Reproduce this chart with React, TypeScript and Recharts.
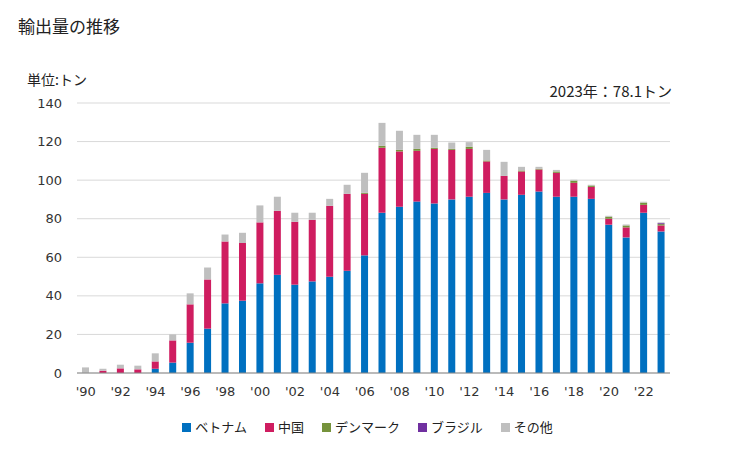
import React from "react";
import { BarChart, Bar, XAxis, YAxis, CartesianGrid } from "recharts";

const years = ["'90","'91","'92","'93","'94","'95","'96","'97","'98","'99","'00","'01","'02","'03","'04","'05","'06","'07","'08","'09","'10","'11","'12","'13","'14","'15","'16","'17","'18","'19","'20","'21","'22","'23"];
const vietnam = [0,0,0,0,2.2,5.4,15.7,23.0,36.1,37.5,46.5,50.9,45.8,47.5,49.9,53.0,61.0,83.1,86.2,88.9,87.9,90.0,91.4,93.4,90.0,92.4,94.1,91.4,91.4,90.3,76.9,70.3,83.1,73.4];
const china = [0,1.2,2.4,1.9,3.8,11.5,19.9,25.5,32.1,29.9,31.6,33.2,32.6,31.9,36.8,39.9,31.9,33.7,28.7,26.3,28.3,25.7,24.8,16.3,12.2,12.1,11.4,12.4,7.2,6.2,3.1,5.2,4.1,3.1];
const denmark = [0,0,0,0,0,0,0,0,0,0,0,0,0,0,0,0,0.5,1.0,0.8,1.0,0.6,0.5,1.1,0.5,0,0.5,0.4,0.7,1.1,0.7,1.0,1.0,1.1,0.7];
const brazil = [0,0,0,0,0,0,0,0,0,0,0,0,0,0,0,0,0,0,0,0,0,0,0,0,0,0,0,0,0,0,0,0,0,0.5];
const others = [2.9,1.0,1.9,1.9,4.2,3.1,5.7,6.2,3.6,5.3,8.8,7.3,4.7,3.7,3.6,4.7,10.4,11.9,9.9,7.3,6.7,3.3,2.4,5.5,7.3,1.9,1.0,0.8,0.5,0.4,0.5,0.5,0.5,0.4];
const yTicks = [0,20,40,60,80,100,120,140];

const seriesNames = ["ベトナム","中国","デンマーク","ブラジル","その他"];
const seriesKeys = ["vn","cn","dk","br","ot"];
const colors = ["#0070C0","#CF1D60","#76933C","#7030A0","#BFBFBF"];

const data = years.map((y, i) => ({
  year: y,
  vn: vietnam[i],
  cn: china[i],
  dk: denmark[i],
  br: brazil[i],
  ot: others[i],
}));

const jp = "'Noto Sans CJK JP', sans-serif";
const num = "'DejaVu Sans', sans-serif";

export default function App() {
  return (
    <div style={{ position: "fixed", left: 0, top: 0, width: 729, height: 450, background: "#fff", fontFamily: jp }}>
      <div style={{ position: "absolute", left: 18, top: 13, fontSize: 17, color: "#222" }}>輸出量の推移</div>
      <div style={{ position: "absolute", left: 27, top: 69, fontSize: 14, color: "#222" }}>単位:トン</div>
      <div style={{ position: "absolute", right: 57, top: 80, fontSize: 15, color: "#222" }}>2023年：78.1トン</div>
      <BarChart
        width={729}
        height={450}
        data={data}
        margin={{ top: 103, right: 59, left: 0, bottom: 47 }}
        barCategoryGap={0}
      >
        <CartesianGrid vertical={false} stroke="#d9d9d9" />
        <XAxis
          dataKey="year"
          interval={1}
          tickLine={false}
          axisLine={{ stroke: "#888" }}
          tick={{ fontSize: 13, fill: "#333", fontFamily: num }}
          tickMargin={8}
          height={30}
        />
        <YAxis
          width={77}
          domain={[0, 140]}
          ticks={yTicks}
          axisLine={false}
          tickLine={false}
          tickMargin={9}
          tick={{ fontSize: 13, fill: "#333", fontFamily: num }}
        />
        {seriesKeys.map((k, i) => (
          <Bar key={k} dataKey={k} name={seriesNames[i]} stackId="a" fill={colors[i]} barSize={7} isAnimationActive={false} />
        ))}
      </BarChart>
      <div style={{ position: "absolute", left: 0, width: 729, top: 417, display: "flex", justifyContent: "center", fontSize: 13, color: "#222" }}>
        <div style={{ display: "flex", marginLeft: 6 }}>
          {seriesNames.map((n, i) => (
            <div key={n} style={{ display: "flex", alignItems: "center", marginRight: i < seriesNames.length - 1 ? 18 : 0 }}>
              <span style={{ display: "inline-block", width: 9, height: 9, background: colors[i], marginRight: 4, marginTop: 2 }} />
              <span>{n}</span>
            </div>
          ))}
        </div>
      </div>
    </div>
  );
}
